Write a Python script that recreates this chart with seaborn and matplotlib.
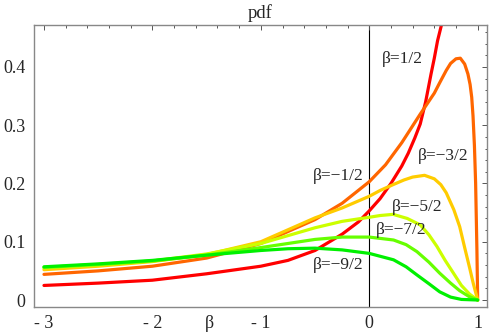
import matplotlib
matplotlib.use("Agg")
import matplotlib.pyplot as plt
import matplotlib.transforms as mtransforms
from matplotlib.ticker import MultipleLocator, FixedLocator
import seaborn as sns
import pandas as pd

# ---- data ----
x_b05 = [-3, -2.5, -2, -1.5, -1, -0.75, -0.5, -0.25, -0.1, 0, 0.1, 0.2, 0.3, 0.36, 0.42, 0.47, 0.52, 0.57, 0.6, 0.63, 0.67, 0.7]
y_b05 = [0.025, 0.029, 0.034, 0.045, 0.058, 0.068, 0.085, 0.113, 0.134, 0.153, 0.174, 0.2, 0.23, 0.252, 0.278, 0.302, 0.34, 0.388, 0.415, 0.445, 0.475, 0.51]

x_bm05 = [-3, -2.5, -2, -1.5, -1, -0.5, -0.25, 0, 0.15, 0.3, 0.47, 0.6, 0.65, 0.71, 0.75, 0.8, 0.84, 0.88, 0.91, 0.93, 0.945, 0.957, 0.97, 0.981, 0.993, 1.0]
y_bm05 = [0.044, 0.050, 0.058, 0.072, 0.097, 0.138, 0.166, 0.203, 0.232, 0.27, 0.319, 0.355, 0.373, 0.394, 0.406, 0.414, 0.415, 0.405, 0.388, 0.37, 0.348, 0.316, 0.265, 0.201, 0.086, 0.0]

x_bm15 = [-3, -2.5, -2, -1.5, -1, -0.5, -0.25, 0, 0.1, 0.22, 0.32, 0.4, 0.51, 0.6, 0.66, 0.71, 0.78, 0.834, 0.88, 0.926, 0.96, 1.0]
y_bm15 = [0.052, 0.058, 0.066, 0.078, 0.100, 0.141, 0.158, 0.178, 0.188, 0.198, 0.206, 0.211, 0.214, 0.208, 0.198, 0.184, 0.155, 0.126, 0.09, 0.055, 0.028, 0.0]

x_bm25 = [-3, -2.5, -2, -1.5, -1, -0.5, -0.25, 0, 0.1, 0.22, 0.35, 0.47, 0.55, 0.624, 0.7, 0.777, 0.85, 0.926, 1.0]
y_bm25 = [0.055, 0.060, 0.067, 0.079, 0.097, 0.124, 0.135, 0.142, 0.145, 0.147, 0.14, 0.129, 0.112, 0.092, 0.068, 0.046, 0.025, 0.01, 0.0]

x_bm35 = [-3, -2.5, -2, -1.5, -1, -0.5, -0.25, 0, 0.224, 0.34, 0.44, 0.55, 0.65, 0.75, 0.834, 0.92, 1.0]
y_bm35 = [0.056, 0.061, 0.067, 0.077, 0.090, 0.104, 0.108, 0.108, 0.103, 0.095, 0.083, 0.065, 0.046, 0.029, 0.016, 0.006, 0.0]

x_bm45 = [-3, -2.5, -2, -1.5, -1, -0.75, -0.5, -0.25, 0, 0.224, 0.34, 0.44, 0.55, 0.65, 0.75, 0.85, 1.0]
y_bm45 = [0.057, 0.062, 0.068, 0.077, 0.085, 0.088, 0.089, 0.086, 0.080, 0.069, 0.057, 0.043, 0.028, 0.014, 0.005, 0.001, 0.0]

series_names = ["1/2", "-1/2", "-3/2", "-5/2", "-7/2", "-9/2"]
series_x = [x_b05, x_bm05, x_bm15, x_bm25, x_bm35, x_bm45]
series_y = [y_b05, y_bm05, y_bm15, y_bm25, y_bm35, y_bm45]
colors = ["#FF0000", "#FF6600", "#FFCC00", "#CCFF00", "#66FF00", "#00F000"]

label_texts = ["β=1/2", "β=−3/2", "β=−1/2", "β=−5/2", "β=−7/2", "β=−9/2"]
label_x = [0.12, 0.445, -0.52, 0.205, 0.065, -0.52]
label_y = [0.414, 0.247, 0.212, 0.160, 0.121, 0.060]

x_ticks = [-3, -2, -1, 0, 1]
x_ticklabels = ["- 3", "- 2", "- 1", "0", "1"]
y_ticks = [0, 0.1, 0.2, 0.3, 0.4]
y_ticklabels = ["0", "0.1", "0.2", "0.3", "0.4"]

# ---- build table ----
rows = []
for name, xs, ys in zip(series_names, series_x, series_y):
    for xv, yv in zip(xs, ys):
        rows.append({"x": xv, "pdf": yv, "beta": name})
df = pd.DataFrame(rows)

sns.set_style("white")
plt.rcParams["font.family"] = ["Liberation Serif", "DejaVu Serif"]

fig = plt.figure(figsize=(4.91, 3.33), dpi=100)
ax = fig.add_axes([34 / 491, 26 / 333, (487 - 34) / 491, (307 - 25) / 333])

sns.lineplot(data=df, x="x", y="pdf", hue="beta", hue_order=series_names,
             palette=colors, estimator=None, sort=False, linewidth=2.3,
             legend=False, ax=ax)
for line in ax.lines:
    line.set_solid_joinstyle("round")

ax.axvline(0, color="black", linewidth=0.8, zorder=0.5)

ax.set_xlim(-3.092, 1.086)
ax.set_ylim(-0.012, 0.472)

ax.xaxis.set_major_locator(FixedLocator(x_ticks))
ax.set_xticklabels(x_ticklabels)
ax.yaxis.set_major_locator(FixedLocator(y_ticks))
ax.set_yticklabels(y_ticklabels)
ax.xaxis.set_minor_locator(MultipleLocator(0.2))
ax.yaxis.set_minor_locator(MultipleLocator(0.02))

ax.tick_params(which="both", direction="in", top=True, right=True,
               color="#555555", width=0.7, labelsize=13)
ax.tick_params(which="major", length=3.5)
ax.tick_params(which="minor", length=1.8)
ax.tick_params(axis="x", which="major", pad=6)
ax.tick_params(axis="y", which="major", pad=6)

for sp in ax.spines.values():
    sp.set_color("#888888")
    sp.set_linewidth(1.0)

ax.set_xlabel("")
ax.set_ylabel("")
ax.set_title("pdf", fontsize=13.5, pad=5)

trans = mtransforms.blended_transform_factory(ax.transData, ax.transAxes)
ax.text(-1.47, -0.06, "β", transform=trans, ha="center", va="center", fontsize=13)

for t, lx, ly in zip(label_texts, label_x, label_y):
    ax.text(lx, ly, t, ha="left", va="center", fontsize=12.5)

fig.savefig("out.png", dpi=100)
